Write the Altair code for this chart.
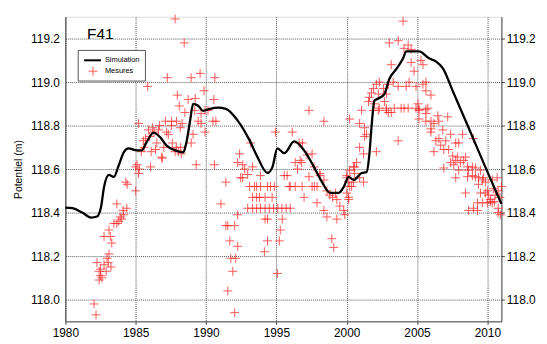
import altair as alt
import pandas as pd

# Simulation curve (year, potential in m)
sim_year = [1980.0, 1980.5, 1981.2, 1981.83, 1982.25, 1982.54, 1982.75, 1983.1, 1983.45, 1983.8,
            1984.15, 1984.5, 1985.07, 1985.42, 1985.77, 1986.27, 1986.76, 1987.18, 1987.82, 1988.38,
            1988.59, 1988.87, 1989.08, 1989.44, 1989.79, 1990.28, 1990.85, 1991.41, 1992.25, 1993.1,
            1993.66, 1994.37, 1994.72, 1995.07, 1995.56, 1996.27, 1996.97, 1997.68, 1998.24, 1998.8,
            1999.44, 1999.79, 2000.14, 2000.49, 2001.06, 2001.41, 2001.62, 2001.76, 2001.97, 2002.32,
            2002.68, 2003.03, 2003.52, 2004.01, 2004.23, 2005.14, 2005.85, 2006.34, 2006.83, 2007.54,
            2008.66, 2009.86, 2011.0]
sim_value = [118.423, 118.42, 118.40, 118.377, 118.382, 118.427, 118.518, 118.573, 118.564, 118.618,
             118.677, 118.695, 118.686, 118.686, 118.723, 118.768, 118.745, 118.709, 118.686, 118.677,
             118.718, 118.823, 118.90, 118.891, 118.868, 118.877, 118.882, 118.877, 118.823, 118.732,
             118.655, 118.582, 118.609, 118.695, 118.673, 118.727, 118.686, 118.609, 118.541, 118.491,
             118.491, 118.518, 118.564, 118.55, 118.582, 118.586, 118.673, 118.79, 118.914, 118.927,
             118.945, 119.014, 119.059, 119.109, 119.141, 119.141, 119.109, 119.095, 119.064, 118.959,
             118.791, 118.609, 118.44]

# Measurements (year, potential in m)
mes_year = [
    1982.04, 1982.18, 1982.25, 1982.4, 1982.5, 1982.6, 1982.4, 1982.9, 1982.96, 1983.1,
    1983.24, 1982.75, 1982.5, 1983.05, 1982.75, 1983.1, 1983.3, 1983.2, 1983.45, 1983.66,
    1983.8, 1984.0, 1984.15, 1984.37, 1983.66, 1983.9, 1984.1, 1984.3, 1984.4, 1985.0,
    1985.0, 1985.1, 1985.2, 1985.25, 1985.21, 1985.4, 1985.55, 1985.6, 1985.7, 1985.9,
    1986.06, 1986.1, 1986.0, 1986.2, 1986.3, 1986.41, 1986.5, 1986.62, 1986.7, 1986.83,
    1986.9, 1987.0, 1987.11, 1987.2, 1987.32, 1987.54, 1987.54, 1987.6, 1987.8, 1987.89,
    1988.03, 1988.17, 1988.3, 1987.9, 1988.2, 1988.24,
    1985.85, 1987.25, 1987.8, 1988.45, 1988.94, 1989.58, 1990.63, 1989.86, 1987.96, 1988.73,
    1989.23, 1990.56, 1988.1, 1988.5, 1989.2, 1989.65, 1990.14, 1990.7, 1989.44, 1989.65,
    1989.93, 1989.08, 1988.95, 1990.49, 1989.93, 1989.3, 1990.6,
    1991.41, 1991.06, 1991.41, 1991.55, 1992.04, 1991.69, 1991.76, 1992.25, 1992.11, 1991.9,
    1991.55, 1992.04, 1992.25, 1992.39, 1992.25, 1992.61, 1992.75, 1992.96, 1992.46, 1992.6,
    1993.1, 1993.45, 1993.6, 1993.87, 1994.37, 1994.86, 1993.31, 1993.6, 1993.8, 1994.2,
    1994.7, 1992.96, 1993.31, 1993.6, 1993.87, 1994.2, 1994.5, 1994.8, 1995.1, 1995.4,
    1995.7, 1995.99, 1994.37, 1994.2, 1995.42, 1995.28, 1995.21, 1994.37, 1994.15, 1995.07,
    1993.17, 1993.87, 1993.31, 1994.58,
    1994.93, 1996.13, 1997.32, 1998.38, 1996.62, 1996.69, 1996.34, 1996.5, 1996.8, 1997.32,
    1997.68, 1997.18, 1995.56, 1995.77, 1998.1, 1998.38, 1997.89, 1995.99, 1995.92, 1996.34,
    1996.83, 1997.54, 1997.7, 1996.97, 1997.89, 1998.38, 1998.59, 1999.3, 1998.94, 1999.08,
    1996.85, 1997.54, 1998.1, 1998.8, 1999.3, 1999.0, 1999.51, 1999.79, 1999.86, 2000.14,
    2000.21, 2000.49, 2000.0, 2000.56, 1998.6, 1999.2,
    2000.21, 2001.06, 2000.92, 2001.27, 2001.41, 2001.27, 2000.92, 2001.2, 2002.11, 2000.7,
    2000.49, 2000.21, 2000.56, 2000.92, 2001.2, 2000.0, 2000.14, 2000.35, 2000.0, 2000.14,
    2001.62, 2001.76, 2001.55, 2001.9, 2002.11, 2002.32, 2002.61, 2002.25, 2002.82, 2002.96,
    2001.97, 2002.32, 2002.68, 2001.9, 2002.25, 2002.82, 2002.96, 2003.38, 2004.08, 2003.66,
    2003.17, 2003.31, 2003.66, 2004.23, 2004.93, 2004.44, 2005.42, 2005.63, 2004.01, 2003.03,
    2003.66, 2004.37, 2004.58, 2004.08, 2004.58, 2004.79, 2005.28, 2005.42, 2005.63, 2005.99,
    2005.07, 2004.93, 2005.14, 2005.77, 2005.63, 2005.14, 2005.63, 2006.48, 2007.18, 2005.99,
    2006.2, 2006.55, 2002.82, 2003.17, 2003.87, 2004.37,
    2005.14, 2005.63, 2005.99, 2005.99, 2006.83, 2007.39, 2008.24, 2006.55, 2006.34, 2006.69,
    2007.04, 2007.75, 2007.96, 2009.01, 2006.2, 2006.9, 2007.25, 2007.54, 2007.89, 2008.45,
    2008.31, 2007.75, 2007.39, 2007.61, 2008.1, 2008.59, 2008.94, 2009.15, 2008.66, 2006.9,
    2007.96, 2009.51, 2008.94, 2009.15, 2008.59, 2007.75, 2009.37, 2009.72, 2009.65, 2009.86,
    2009.37, 2010.35, 2010.7, 2009.51, 2009.86, 2010.42, 2010.77, 2010.07, 2010.56, 2010.21,
    2010.35, 2010.0, 2008.45, 2009.65, 2009.3, 2008.66, 2009.01, 2009.3, 2010.77, 2010.92,
    2010.77, 2010.21, 2010.0, 2010.5, 2011.0, 2010.9,
]
mes_value = [
    117.98, 117.93, 118.17, 118.13, 118.14, 118.10, 118.09, 118.13, 118.19, 118.21,
    118.15, 118.16, 118.11, 118.17, 118.29, 118.32, 118.26, 118.29, 118.35, 118.35,
    118.36, 118.37, 118.39, 118.42, 118.44, 118.38, 118.41, 118.54, 118.53, 118.50,
    118.61, 118.62, 118.58, 118.60, 118.81, 118.68, 118.73, 118.70, 118.74, 118.78,
    118.61, 118.68, 118.75, 118.79, 118.77, 118.69, 118.72, 118.78, 118.80, 118.655,
    118.65, 118.70, 118.82, 118.77, 118.76, 118.82, 118.80, 118.72, 118.68, 118.70,
    118.68, 118.79, 118.81, 118.82, 118.70, 118.67,
    118.98, 119.02, 119.29, 119.18, 119.02, 119.04, 119.02, 118.96, 118.94, 118.92,
    118.925, 118.92, 118.89, 118.86, 118.87, 118.855, 118.87, 118.82, 118.82, 118.81,
    118.77, 118.76, 118.72, 118.82, 118.87, 118.62, 118.62,
    118.54, 118.44, 118.34, 118.34, 118.34, 118.27, 118.19, 118.245, 118.19, 118.13,
    118.04, 117.94, 118.39, 118.67, 118.63, 118.62, 118.60, 118.575, 118.56, 118.56,
    118.52, 118.52, 118.52, 118.52, 118.52, 118.52, 118.47, 118.47, 118.47, 118.47,
    118.47, 118.42, 118.42, 118.42, 118.42, 118.42, 118.42, 118.42, 118.42, 118.42,
    118.42, 118.42, 118.37, 118.37, 118.37, 118.32, 118.27, 118.27, 118.22, 118.12,
    118.72, 118.57, 118.61, 118.52,
    118.77, 118.77, 118.87, 118.82, 118.72, 118.64, 118.63, 118.60, 118.63, 118.565,
    118.61, 118.665, 118.57, 118.57, 118.57, 118.55, 118.52, 118.52, 118.52, 118.52,
    118.52, 118.52, 118.52, 118.47, 118.445, 118.41, 118.38, 118.37, 118.28, 118.24,
    118.72, 118.67, 118.58, 118.48, 118.46, 118.47, 118.43, 118.41, 118.39, 118.47,
    118.52, 118.54, 118.57, 118.61, 118.50, 118.49,
    118.83, 118.87, 118.81, 118.79, 118.76, 118.75, 118.70, 118.67, 118.68, 118.63,
    118.61, 118.595, 118.58, 118.56, 118.54, 118.56, 118.54, 118.52, 118.49, 118.46,
    118.93, 118.95, 118.91, 118.97, 118.99, 119.0, 118.97, 118.945, 118.945, 118.99,
    118.90, 118.88, 118.91, 118.87, 118.87, 118.88, 118.86, 118.88, 118.88, 118.73,
    119.08, 119.0, 118.98, 118.98, 118.98, 119.0, 118.99, 119.0, 119.28, 119.18,
    119.19, 119.17, 119.15, 119.155, 119.09, 119.05, 119.10, 119.08, 118.96, 118.94,
    118.90, 118.88, 118.87, 118.88, 118.855, 118.83, 118.82, 118.845, 118.84, 118.82,
    118.81, 118.82, 118.87, 118.86, 118.88, 118.88,
    118.875, 118.875, 118.785, 118.77, 118.78, 118.76, 118.76, 118.74, 118.73, 118.71,
    118.73, 118.72, 118.72, 118.74, 118.68, 118.69, 118.69, 118.66, 118.655, 118.655,
    118.64, 118.64, 118.63, 118.62, 118.63, 118.61, 118.61, 118.605, 118.595, 118.605,
    118.595, 118.595, 118.57, 118.565, 118.565, 118.56, 118.56, 118.56, 118.55, 118.54,
    118.53, 118.55, 118.56, 118.49, 118.49, 118.51, 118.50, 118.48, 118.48, 118.46,
    118.445, 118.445, 118.49, 118.445, 118.445, 118.41, 118.42, 118.41, 118.42, 118.39,
    118.40, 118.45, 118.50, 118.45, 118.52, 118.47,
]

x_ticks = [1980, 1985, 1990, 1995, 2000, 2005, 2010]
y_ticks = [118.0, 118.2, 118.4, 118.6, 118.8, 119.0, 119.2]

sim_df = pd.DataFrame({"year": sim_year, "value": sim_value})
mes_df = pd.DataFrame({"year": mes_year, "value": mes_value})

FONT = "Liberation Sans"
PLUS = "M-1,0L1,0M0,-1L0,1"

xscale = alt.Scale(domain=[1980, 2011], nice=False, zero=False)
yscale = alt.Scale(domain=[117.9, 119.3], nice=False, zero=False)

xaxis = alt.Axis(values=x_ticks, format="d", title=None, grid=True, gridDash=[1, 1],
                 gridColor="#555", tickSize=3, tickColor="#444", domainColor="#444",
                 labelFontSize=12, labelFont=FONT, labelColor="#000", labelPadding=3,
                 labelFlush=False)

pts = alt.Chart(mes_df).mark_point(
    shape=PLUS, filled=False, stroke="#ff2020", strokeWidth=1, size=81, opacity=0.75
).encode(
    x=alt.X("year:Q", scale=xscale, axis=xaxis),
    y=alt.Y("value:Q", scale=yscale,
            axis=alt.Axis(values=y_ticks, format=".1f", title="Potentiel (m)", orient="left",
                          grid=True, gridDash=[1, 1], gridColor="#555", ticks=False,
                          domainColor="#444", labelFontSize=12, labelFont=FONT,
                          labelColor="#000", labelPadding=6, titleFont=FONT,
                          titleFontSize=10.5, titleFontWeight="normal", titleColor="#000",
                          titlePadding=7)),
)

line = alt.Chart(sim_df).mark_line(
    color="black", strokeWidth=2.3, interpolate="monotone"
).encode(
    x=alt.X("year:Q", scale=xscale, axis=xaxis),
    y=alt.Y("value:Q", scale=yscale,
            axis=alt.Axis(values=y_ticks, format=".1f", title=None, orient="right",
                          grid=False, tickSize=3, tickColor="#444", domainColor="#444",
                          labelFontSize=12, labelFont=FONT, labelColor="#000",
                          labelPadding=2)),
)

one = pd.DataFrame({"k": [0]})

title_txt = alt.Chart(one).mark_text(
    text="F41", font=FONT, fontSize=15.5, align="left", baseline="alphabetic", color="#000"
).encode(x=alt.value(22), y=alt.value(22.5))

box = alt.Chart(one).mark_rect(fill="white", stroke="#555", strokeWidth=1).encode(
    x=alt.value(13), x2=alt.value(81), y=alt.value(34), y2=alt.value(65))

leg_line = alt.Chart(one).mark_rule(color="black", strokeWidth=2).encode(
    x=alt.value(19), x2=alt.value(36), y=alt.value(44))

leg_pt = alt.Chart(one).mark_point(
    shape=PLUS, filled=False, stroke="#ff2020", strokeWidth=1, size=81, opacity=0.75
).encode(x=alt.value(28), y=alt.value(55))

leg_t1 = alt.Chart(one).mark_text(
    text="Simulation", font=FONT, fontSize=7.5, align="left", baseline="middle", color="#000"
).encode(x=alt.value(40), y=alt.value(44))

leg_t2 = alt.Chart(one).mark_text(
    text="Mesures", font=FONT, fontSize=7.5, align="left", baseline="middle", color="#000"
).encode(x=alt.value(40), y=alt.value(55))

chart = alt.layer(
    pts, line, title_txt, box, leg_line, leg_pt, leg_t1, leg_t2
).resolve_axis(y="independent").properties(
    width=441, height=308,
    autosize=alt.AutoSizeParams(type="none"),
    padding={"left": 58, "top": 7, "right": 38, "bottom": 21},
).configure_view(stroke=None).configure(background="white")

chart.save("out.html", embed_options={"renderer": "svg", "actions": False})
